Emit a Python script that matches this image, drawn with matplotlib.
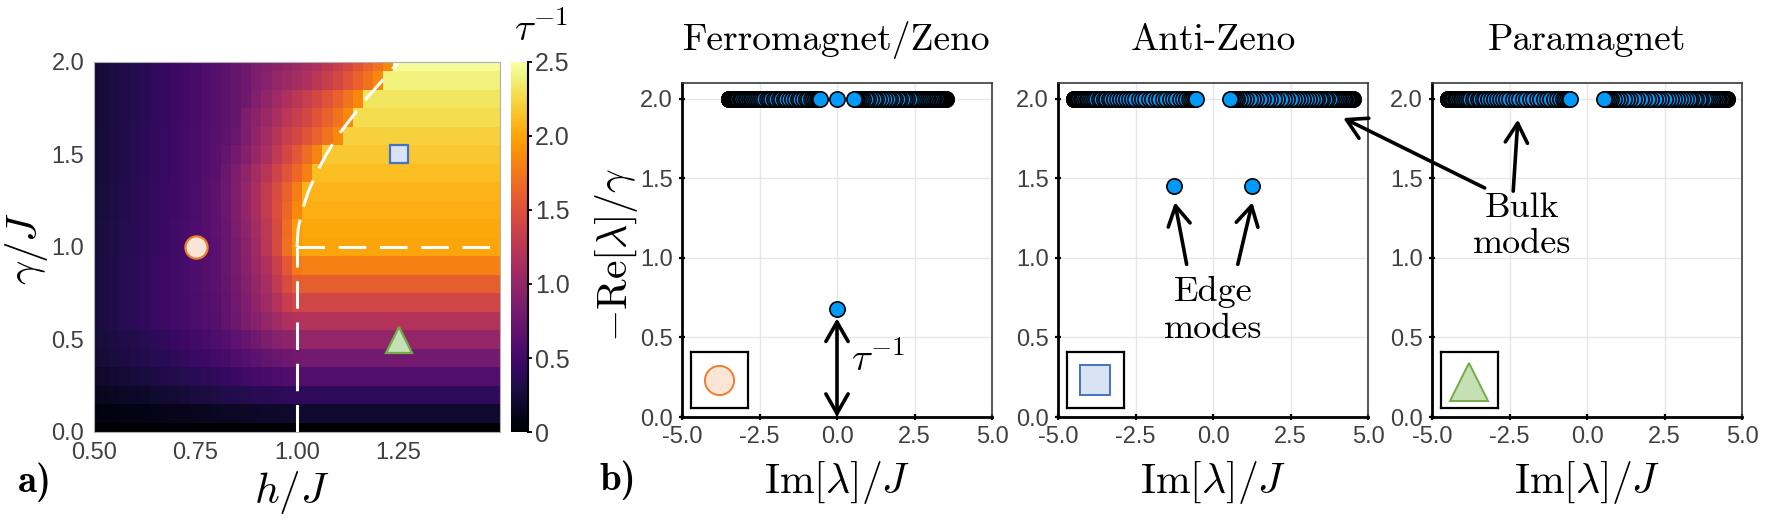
import numpy as np
import matplotlib
matplotlib.use("Agg")
import matplotlib.pyplot as plt

plt.rcParams['mathtext.fontset'] = 'cm'
plt.rcParams['axes.unicode_minus'] = False

# ---------------- data: heatmap (tau^-1 over h/J, gamma/J) ----------------
h_centers = np.linspace(0.5, 1.5, 41)
gamma_centers = np.linspace(0.0, 2.0, 21)

r00 = [0.00] * 41
r01 = [0.06,0.07,0.07,0.08,0.09,0.09,0.10,0.11,0.12,0.12,0.13,0.14,0.15,0.16,0.16,0.17,0.18,0.19,0.19,0.20,0.20] + [0.20] * 20
r02 = [0.13,0.14,0.15,0.17,0.18,0.19,0.21,0.22,0.23,0.25,0.27,0.28,0.30,0.31,0.33,0.34,0.36,0.37,0.38,0.39,0.40] + [0.40] * 20
r03 = [0.19,0.20,0.22,0.24,0.26,0.27,0.29,0.31,0.33,0.35,0.37,0.39,0.41,0.43,0.46,0.49,0.52,0.54,0.56,0.58,0.59] + [0.60] * 20
r04 = [0.23,0.25,0.27,0.29,0.31,0.33,0.35,0.37,0.39,0.42,0.45,0.48,0.51,0.54,0.58,0.62,0.66,0.70,0.74,0.77,0.79] + [0.80] * 20
r05 = [0.25,0.27,0.29,0.31,0.33,0.35,0.38,0.41,0.44,0.47,0.50,0.53,0.57,0.61,0.66,0.72,0.79,0.86,0.92,0.96,0.99] + [1.00] * 20
r06 = [0.26,0.29,0.32,0.35,0.38,0.41,0.44,0.47,0.50,0.53,0.56,0.59,0.62,0.69,0.76,0.84,0.92,1.00,1.08,1.16,1.20] + [1.20] * 20
r07 = [0.26,0.29,0.32,0.35,0.38,0.41,0.44,0.47,0.50,0.53,0.56,0.59,0.63,0.70,0.78,0.87,0.97,1.08,1.20,1.32,1.40] + [1.40] * 20
r08 = [0.26,0.29,0.32,0.35,0.38,0.41,0.44,0.47,0.50,0.53,0.57,0.61,0.65,0.72,0.80,0.89,1.00,1.13,1.28,1.45,1.58] + [1.60] * 20
r09 = [0.26,0.29,0.32,0.35,0.38,0.41,0.44,0.47,0.50,0.53,0.57,0.61,0.65,0.73,0.82,0.92,1.04,1.18,1.35,1.55,1.75] + [1.80] * 20
r10 = [0.25,0.28,0.31,0.34,0.37,0.40,0.43,0.46,0.49,0.53,0.57,0.61,0.65,0.73,0.83,0.94,1.08,1.25,1.45,1.70,1.95] + [2.00] * 20
r11 = [0.25,0.28,0.31,0.34,0.37,0.40,0.43,0.46,0.49,0.53,0.57,0.61,0.66,0.74,0.84,0.96,1.10,1.26,1.45,1.68,1.95] + [2.02] * 20
r12 = [0.24,0.27,0.30,0.33,0.36,0.39,0.42,0.45,0.48,0.52,0.56,0.61,0.66,0.75,0.86,0.99,1.14,1.30,1.48,1.66,1.85] + [2.05] * 20
r13 = [0.24,0.27,0.30,0.33,0.36,0.39,0.42,0.45,0.48,0.52,0.56,0.61,0.67,0.76,0.87,1.00,1.15,1.30,1.46,1.62,1.78] + [2.08] * 20
r14 = [0.23,0.26,0.29,0.32,0.35,0.38,0.41,0.44,0.47,0.51,0.55,0.59,0.65,0.75,0.85,0.97,1.10,1.24,1.38,1.52,1.66] + [1.80] + [2.12] * 19
r15 = [0.23,0.26,0.29,0.32,0.35,0.38,0.41,0.44,0.47,0.51,0.55,0.59,0.64,0.71,0.80,0.90,1.02,1.15,1.28,1.42,1.55] + [1.68,1.82] + [2.17] * 18
r16 = [0.23,0.26,0.29,0.32,0.35,0.38,0.41,0.44,0.47,0.51,0.55,0.59,0.63,0.68,0.74,0.86,0.98,1.10,1.22,1.33,1.42] + [1.52,1.62,1.72,1.85] + [2.22] * 16
r17 = [0.22,0.25,0.28,0.31,0.34,0.37,0.40,0.43,0.46,0.50,0.54,0.58,0.62,0.67,0.72,0.85,0.95,1.05,1.15,1.25,1.33] + [1.42,1.52,1.62,1.72,1.85] + [2.28] * 15
r18 = [0.22,0.25,0.28,0.31,0.34,0.37,0.40,0.43,0.46,0.50,0.54,0.58,0.62,0.67,0.72,0.78,0.88,0.98,1.08,1.17,1.25] + [1.33,1.42,1.52,1.62,1.72,1.85] + [2.33] * 14
r19 = [0.22,0.25,0.28,0.31,0.34,0.37,0.40,0.43,0.46,0.50,0.54,0.58,0.62,0.67,0.72,0.78,0.85,0.92,1.00,1.05,1.10] + [1.17,1.25,1.33,1.42,1.52,1.62,1.72,1.85] + [2.40] * 12
r20 = [0.22,0.25,0.28,0.31,0.34,0.37,0.40,0.43,0.46,0.50,0.54,0.58,0.62,0.67,0.72,0.78,0.85,0.90,0.95,1.00,1.05] + [1.10,1.17,1.25,1.33,1.42,1.52,1.62,1.72,1.85] + [2.47] * 11

tau_inv = np.array([r00, r01, r02, r03, r04, r05, r06, r07, r08, r09, r10,
                    r11, r12, r13, r14, r15, r16, r17, r18, r19, r20])

# phase boundaries
vline_h = [1.0, 1.0];   vline_g = [0.0, 1.0]
hline_h = [1.0, 1.5];   hline_g = [1.0, 1.0]
curve_h = [1.0, 1.003, 1.013, 1.028, 1.048, 1.072, 1.10, 1.135, 1.17, 1.21, 1.25]
curve_g = [1.0, 1.1, 1.2, 1.3, 1.4, 1.5, 1.6, 1.7, 1.8, 1.9, 2.0]

# selected parameter points (h, gamma)
pt_ferro = (0.75, 1.0)
pt_anti = (1.25, 1.5)
pt_para = (1.25, 0.5)

# ---------------- data: spectra (Im parts, drawn outer -> inner) ----------------
ferro_neg = [-3.50,-3.50,-3.49,-3.49,-3.48,-3.47,-3.46,-3.44,-3.42,-3.40,-3.38,-3.35,-3.32,-3.29,
             -3.26,-3.22,-3.18,-3.14,-3.10,-3.05,-3.00,-2.95,-2.90,-2.85,-2.79,-2.73,-2.67,-2.61,
             -2.55,-2.48,-2.41,-2.34,-2.27,-2.20,-2.12,-2.04,-1.96,-1.88,-1.80,-1.72,-1.63,-1.54,
             -1.45,-1.36,-1.27,-1.18,-1.09,-1.00,-0.92,-0.84,-0.77,-0.70,-0.65,-0.60,-0.57,-0.55]
ferro_pos = [3.50,3.50,3.49,3.49,3.48,3.47,3.46,3.44,3.42,3.40,3.38,3.35,3.32,3.29,
             3.26,3.22,3.18,3.14,3.10,3.05,3.00,2.95,2.90,2.85,2.79,2.73,2.67,2.61,
             2.55,2.48,2.41,2.34,2.27,2.20,2.12,2.04,1.96,1.88,1.80,1.72,1.63,1.54,
             1.45,1.36,1.27,1.18,1.09,1.00,0.92,0.84,0.77,0.70,0.65,0.60,0.57,0.55]
ferro_mid = [0.0]
bulk_re_value = 2.0
edge_im_ferro = [0.0]
edge_re_ferro = [0.68]

anti_neg = [-4.50,-4.50,-4.49,-4.48,-4.47,-4.45,-4.43,-4.41,-4.38,-4.35,-4.31,-4.27,-4.23,-4.18,
            -4.13,-4.08,-4.02,-3.96,-3.90,-3.83,-3.76,-3.69,-3.61,-3.53,-3.45,-3.37,-3.28,-3.19,
            -3.10,-3.01,-2.91,-2.81,-2.71,-2.61,-2.51,-2.40,-2.29,-2.18,-2.07,-1.96,-1.85,-1.74,
            -1.62,-1.51,-1.40,-1.29,-1.18,-1.07,-0.97,-0.87,-0.78,-0.70,-0.63,-0.58,-0.55]
anti_pos = [4.50,4.50,4.49,4.48,4.47,4.45,4.43,4.41,4.38,4.35,4.31,4.27,4.23,4.18,
            4.13,4.08,4.02,3.96,3.90,3.83,3.76,3.69,3.61,3.53,3.45,3.37,3.28,3.19,
            3.10,3.01,2.91,2.81,2.71,2.61,2.51,2.40,2.29,2.18,2.07,1.96,1.85,1.74,
            1.62,1.51,1.40,1.29,1.18,1.07,0.97,0.87,0.78,0.70,0.63,0.58,0.55]
edge_im_anti = [-1.25, 1.25]
edge_re_anti = [1.45, 1.45]

para_neg = [-4.50,-4.50,-4.49,-4.48,-4.47,-4.45,-4.43,-4.41,-4.38,-4.35,-4.31,-4.27,-4.23,-4.18,
            -4.13,-4.08,-4.02,-3.96,-3.90,-3.83,-3.76,-3.69,-3.61,-3.53,-3.45,-3.37,-3.28,-3.19,
            -3.10,-3.01,-2.91,-2.81,-2.71,-2.61,-2.51,-2.40,-2.29,-2.18,-2.07,-1.96,-1.85,-1.74,
            -1.62,-1.51,-1.40,-1.29,-1.18,-1.07,-0.97,-0.87,-0.78,-0.70,-0.63,-0.58,-0.55]
para_pos = [4.50,4.50,4.49,4.48,4.47,4.45,4.43,4.41,4.38,4.35,4.31,4.27,4.23,4.18,
            4.13,4.08,4.02,3.96,3.90,3.83,3.76,3.69,3.61,3.53,3.45,3.37,3.28,3.19,
            3.10,3.01,2.91,2.81,2.71,2.61,2.51,2.40,2.29,2.18,2.07,1.96,1.85,1.74,
            1.62,1.51,1.40,1.29,1.18,1.07,0.97,0.87,0.78,0.70,0.63,0.58,0.55]

titles = ["Ferromagnet/Zeno", "Anti-Zeno", "Paramagnet"]
xticks_b = [-5, -2.5, 0, 2.5, 5]
xticklabels_b = ["-5.0", "-2.5", "0.0", "2.5", "5.0"]
yticks_b = [0, 0.5, 1.0, 1.5, 2.0]
yticklabels_b = ["0.0", "0.5", "1.0", "1.5", "2.0"]

# ---------------- styling ----------------
W, H = 1767, 525
fig = plt.figure(figsize=(W / 100, H / 100), dpi=100)
TICKFONT = dict(family="Liberation Sans")
TICKCOL = "#404040"
DASH = (0, (9, 4.5))

m_circ = dict(marker='o', mfc='#fbe5d6', mec='#ed7d31')
m_sq = dict(marker='s', mfc='#dae3f3', mec='#4472c4')
m_tri = dict(marker='^', mfc='#c5e0b4', mec='#70ad47')


def fx(px):
    return px / W


def fy(py):
    return 1 - py / H


# ---------------- panel a ----------------
axh = fig.add_axes([fx(94), fy(432), 406 / W, 370 / H])
mesh = axh.pcolormesh(h_centers, gamma_centers, tau_inv, cmap='inferno',
                      vmin=0, vmax=2.5, shading='nearest')
axh.set_xlim(0.5, 1.5)
axh.set_ylim(0, 2)
axh.plot(vline_h, vline_g, color='white', lw=2.2, ls=DASH)
axh.plot(hline_h, hline_g, color='white', lw=2.2, ls=DASH)
axh.plot(curve_h, curve_g, color='white', lw=2.2, ls=DASH)
axh.plot([pt_ferro[0]], [pt_ferro[1]], ms=16, mew=1.6, **m_circ)
axh.plot([pt_anti[0]], [pt_anti[1]], ms=12.5, mew=1.6, **m_sq)
axh.plot([pt_para[0]], [pt_para[1]], ms=19, mew=1.6, **m_tri)
axh.set_xticks([0.5, 0.75, 1.0, 1.25])
axh.set_xticklabels(["0.50", "0.75", "1.00", "1.25"], **TICKFONT)
axh.set_yticks([0, 0.5, 1.0, 1.5, 2.0])
axh.set_yticklabels(["0.0", "0.5", "1.0", "1.5", "2.0"], **TICKFONT)
axh.tick_params(length=0, labelsize=17, labelcolor=TICKCOL, pad=7)
for s in axh.spines.values():
    s.set_color('#b0b0b0')
    s.set_linewidth(0.8)

cax = fig.add_axes([fx(511), fy(432), 17 / W, 370 / H])
cb = fig.colorbar(mesh, cax=cax, ticks=[0, 0.5, 1.0, 1.5, 2.0, 2.5])
cb.outline.set_visible(False)
cax.set_yticklabels(["0", "0.5", "1.0", "1.5", "2.0", "2.5"], **TICKFONT)
cax.tick_params(length=3, width=1.3, color='k', labelsize=18, labelcolor=TICKCOL, pad=2)
cax.plot([1, 1], [0, 1], transform=cax.transAxes, color='k', lw=1.5, clip_on=False)
fig.text(fx(541), fy(30), r'$\tau^{-1}$', fontsize=28, ha='center', va='center')

fig.text(fx(27), fy(248), r'$\gamma/J$', fontsize=31, rotation=90, ha='center', va='center')
fig.text(fx(292), fy(492), r'$h/J$', fontsize=31, ha='center', va='center')
fig.text(fx(35), fy(482), 'a)', family='cmb10', fontsize=28, ha='center', va='center')
fig.text(fx(618), fy(480), 'b)', family='cmb10', fontsize=28, ha='center', va='center')

# ---------------- panel b ----------------
lefts = [682, 1058, 1432]
axes_b = []
for i, L in enumerate(lefts):
    ax = fig.add_axes([fx(L), fy(417), 310 / W, 334 / H])
    ax.set_xlim(-5, 5)
    ax.set_ylim(0, 2.1)
    ax.set_xticks(xticks_b)
    ax.set_xticklabels(xticklabels_b, **TICKFONT)
    ax.set_yticks(yticks_b)
    ax.set_yticklabels(yticklabels_b, **TICKFONT)
    ax.tick_params(direction='inout', length=5, width=1.6, color='k',
                   labelsize=17, labelcolor=TICKCOL, pad=4)
    ax.grid(True, color='#e6e6e6', lw=1.0)
    ax.set_axisbelow(True)
    for side in ['left', 'bottom']:
        ax.spines[side].set_color('k')
        ax.spines[side].set_linewidth(2.0)
    for side in ['top', 'right']:
        ax.spines[side].set_color('#3a3a3a')
        ax.spines[side].set_linewidth(1.2)
    fig.text(fx(L + 155), fy(50), titles[i], family='cmr10', fontsize=27,
             ha='center', va='baseline')
    fig.text(fx(L + 155), fy(483), r'$\mathrm{Im}[\lambda]/J$', fontsize=30,
             ha='center', va='center')
    axes_b.append(ax)

fig.text(fx(616), fy(255), r'$-\mathrm{Re}[\lambda]/\gamma$', fontsize=30,
         rotation=90, ha='center', va='center')

pt_style = dict(ls='none', marker='o', ms=11, mfc='#009AFA', mec='black', mew=1.2, zorder=3)
ax1, ax2, ax3 = axes_b


def bulk(ax, ims):
    ax.plot(ims, [bulk_re_value] * len(ims), clip_on=False, **pt_style)


bulk(ax1, ferro_neg)
bulk(ax1, ferro_pos)
bulk(ax1, ferro_mid)
ax1.plot(edge_im_ferro, edge_re_ferro, **pt_style)
bulk(ax2, anti_neg)
bulk(ax2, anti_pos)
ax2.plot(edge_im_anti, edge_re_anti, **pt_style)
bulk(ax3, para_neg)
bulk(ax3, para_pos)

arrow_kw = dict(arrowstyle='->,head_length=0.7,head_width=0.4', color='k', lw=2.6,
                mutation_scale=20, shrinkA=0, shrinkB=0)
# tau^-1 double arrow
ax1.annotate('', xy=(0, 0.62), xytext=(0, 0.0),
             arrowprops=dict(arrow_kw, arrowstyle='<->,head_length=0.7,head_width=0.4'),
             annotation_clip=False)
ax1.text(0.45, 0.36, r'$\tau^{-1}$', fontsize=28, ha='left', va='center')

# edge modes
ax2.text(0, 0.67, 'Edge\nmodes', family='cmr10', fontsize=26, ha='center', va='center',
         linespacing=1.2)
ax2.annotate('', xy=(-1.23, 1.35), xytext=(-0.85, 0.96), arrowprops=arrow_kw)
ax2.annotate('', xy=(1.27, 1.35), xytext=(0.8, 0.96), arrowprops=arrow_kw)

# bulk modes
ax3.text(-2.1, 1.2, 'Bulk\nmodes', family='cmr10', fontsize=26, ha='center', va='center',
         linespacing=1.2)
ax3.annotate('', xy=(-2.23, 1.87), xytext=(-2.38, 1.42), arrowprops=arrow_kw)
ax3.annotate('', xy=(4.2, 1.88), xycoords=ax2.transData,
             xytext=(-3.3, 1.44), textcoords=ax3.transData,
             arrowprops=arrow_kw, annotation_clip=False)

# insets with the phase markers
insets = [(ax1, m_circ, 21), (ax2, m_sq, 21), (ax3, m_tri, 27)]
for ax, mk, ms in insets:
    ia = ax.inset_axes([0.028, 0.028, 0.184, 0.168])
    ia.set_xlim(0, 1)
    ia.set_ylim(0, 1)
    ia.set_xticks([])
    ia.set_yticks([])
    for s in ia.spines.values():
        s.set_linewidth(1.6)
        s.set_color('k')
    yy = 0.5 if mk is not m_tri else 0.45
    ia.plot([0.5], [yy], ms=ms, mew=1.4, **mk)

fig.savefig("out.png", dpi=100)
